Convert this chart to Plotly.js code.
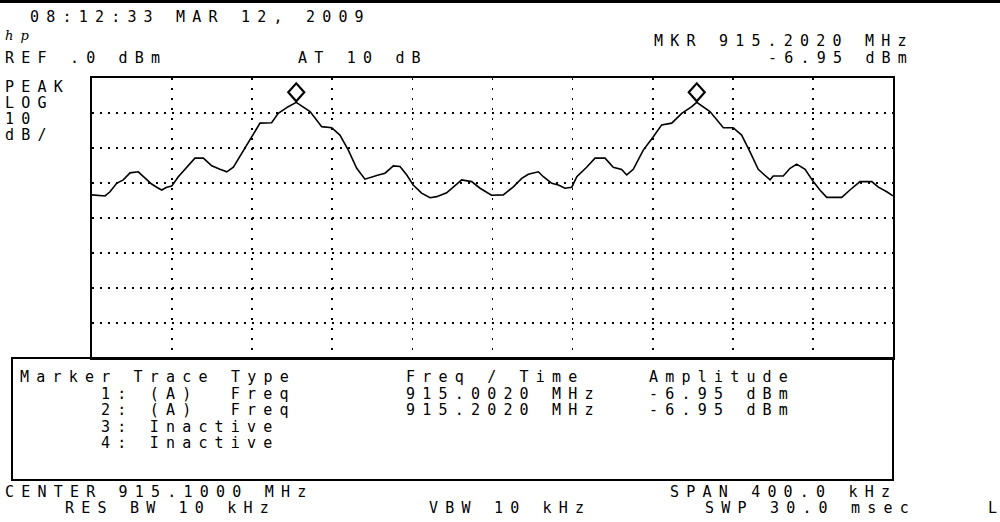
<!DOCTYPE html>
<html><head><meta charset="utf-8">
<script src="https://cdn.plot.ly/plotly-3.0.1.min.js"></script>
<style>
html,body{margin:0;padding:0;background:#fff;}
svg text{letter-spacing:7.2px;}
</style></head>
<body><div id="chart" style="width:1000px;height:522px;"></div>
<script>
// ---- data ----
const traceFreqMHz = [
914.9000,914.9065,914.9090,914.9123,914.9156,914.9190,914.9231,914.9265,914.9298,914.9323,
914.9348,914.9373,914.9398,914.9431,914.9473,914.9514,914.9556,914.9598,914.9639,914.9673,
914.9706,914.9748,914.9789,914.9839,914.9897,914.9930,914.9980,915.0020,915.0089,915.0147,
915.0197,915.0238,915.0280,915.0322,915.0363,915.0397,915.0430,915.0463,915.0505,915.0538,
915.0572,915.0604,915.0646,915.0688,915.0721,915.0771,915.0813,915.0846,915.0896,915.0938,
915.0995,915.1054,915.1104,915.1146,915.1179,915.1229,915.1254,915.1296,915.1329,915.1362,
915.1396,915.1421,915.1470,915.1512,915.1562,915.1603,915.1645,915.1670,915.1703,915.1753,
915.1803,915.1845,915.1895,915.1945,915.1995,915.2020,915.2086,915.2153,915.2202,915.2244,
915.2286,915.2327,915.2386,915.2402,915.2452,915.2486,915.2519,915.2561,915.2602,915.2635,
915.2669,915.2744,915.2785,915.2835,915.2894,915.2927,915.2969,915.3000];
const traceAmpDbm = [
-33.4,-33.7,-32.5,-30.1,-29.1,-27.1,-26.8,-28.7,-30.3,-31.2,
-32.0,-31.2,-30.9,-28.2,-25.5,-22.9,-22.9,-25.1,-26.1,-26.8,
-25.5,-21.5,-17.7,-12.9,-12.8,-10.1,-8.2,-6.95,-9.6,-13.9,
-14.2,-16.3,-20.6,-25.8,-28.9,-28.4,-27.7,-27.2,-25.1,-25.3,
-27.7,-30.6,-32.9,-34.2,-33.9,-32.8,-30.6,-29.1,-29.6,-31.5,
-33.5,-33.4,-31.1,-28.7,-27.5,-26.8,-28.2,-30.1,-30.6,-31.5,
-31.2,-28.2,-25.5,-22.9,-22.9,-25.5,-26.1,-27.7,-26.1,-20.6,
-16.8,-13.4,-12.9,-10.1,-8.2,-6.95,-9.6,-14.2,-14.2,-16.3,
-21.1,-26.1,-29.1,-28.0,-28.0,-25.8,-24.6,-26.1,-29.6,-32.0,
-34.1,-34.1,-32.0,-29.6,-29.6,-31.2,-32.5,-33.7];
const markerFreqMHz = [915.0020, 915.2020];
const markerAmpDbm = [-6.95, -6.95];
const centerMHz = 915.1, spanKHz = 400, refDbm = 0, dbPerDiv = 10;

const headerTexts = ["08:12:33 MAR 12, 2009", "REF .0 dBm", "AT 10 dB", "MKR 915.2020 MHz", "-6.95 dBm"];
const scaleTexts = ["PEAK", "LOG", "10", "dB/"];
const tableHeader = ["Marker Trace Type", "Freq / Time", "Amplitude"];
const tableRows = ["1: (A)\u00a0\u00a0Freq", "2: (A)\u00a0\u00a0Freq", "3: Inactive", "4: Inactive"];
const tableFreq = ["915.0020 MHz", "915.2020 MHz"];
const tableAmp = ["-6.95 dBm", "-6.95 dBm"];
const footerTexts = ["CENTER 915.1000 MHz", "RES BW 10 kHz", "VBW 10 kHz", "SPAN 400.0 kHz", "SWP 30.0 msec", "L"];

// ---- layout helpers (pixel -> paper) ----
const L = 92, R = 893, T = 78, B = 358;
const xp = px => (px - L) / (R - L);
const yp = py => (B - py) / (B - T);
const FONT = "DejaVu Sans Mono";
const anns = [];
function txt(s, x, y, size, extra) {
  anns.push(Object.assign({text: s, x: xp(x), y: yp(y), xref: 'paper', yref: 'paper',
    xanchor: 'left', yanchor: 'middle', align: 'left', showarrow: false, borderpad: 0,
    font: {family: FONT, size: size || 15, color: '#000'}}, extra || {}));
}
txt(headerTexts[0], 29, 17);
txt(headerTexts[1], 4, 58);
txt(headerTexts[2], 297, 58);
txt(headerTexts[3], 653, 41);
txt(headerTexts[4], 767, 58);
txt("<i>hp</i>", 4, 35, 12, {font: {family: "DejaVu Serif", size: 13, color: '#000'}});
scaleTexts.forEach((s, i) => txt(s, 4, 87 + i * 16));
txt(tableHeader[0], 19, 377);
txt(tableHeader[1], 405, 377);
txt(tableHeader[2], 648, 377);
tableRows.forEach((s, i) => txt(s, 100, 394 + i * 16.3));
tableFreq.forEach((s, i) => txt(s, 405, 394 + i * 16.3));
tableAmp.forEach((s, i) => txt(s, 648, 394 + i * 16.3));
txt(footerTexts[0], 4, 492);
txt(footerTexts[1], 64, 508);
txt(footerTexts[2], 428, 508);
txt(footerTexts[3], 669, 492);
txt(footerTexts[4], 704, 508);
txt('<span style="letter-spacing:0px">' + footerTexts[5] + '</span>', 987, 508);

const shapes = [
  {type: 'rect', xref: 'paper', yref: 'paper', x0: xp(0), x1: xp(1000), y0: yp(0), y1: yp(3),
   fillcolor: '#000', line: {width: 0}},
  {type: 'rect', xref: 'paper', yref: 'paper', x0: xp(12), x1: xp(R), y0: yp(B), y1: yp(480),
   line: {color: '#000', width: 2}, fillcolor: 'rgba(0,0,0,0)'}
];
markerFreqMHz.forEach((f, i) => {
  shapes.push({type: 'path', xref: 'x', yref: 'y', xsizemode: 'pixel', ysizemode: 'pixel',
    xanchor: f, yanchor: markerAmpDbm[i], path: 'M0,1 L8,10 L0,19 L-8,10 Z',
    line: {color: '#000', width: 2.2}, fillcolor: 'rgba(0,0,0,0)'});
});

const half = spanKHz / 2000;
const data = [{
  type: 'scatter', mode: 'lines', x: traceFreqMHz, y: traceAmpDbm,
  line: {color: '#000', width: 1.6}, hoverinfo: 'skip'
}];
const layout = {
  width: 1000, height: 522, showlegend: false,
  paper_bgcolor: '#fff', plot_bgcolor: '#fff',
  margin: {l: L, r: 1000 - R, t: T, b: 522 - B, pad: 0},
  xaxis: {range: [centerMHz - half, centerMHz + half], dtick: spanKHz / 10000, tick0: centerMHz - half,
    showticklabels: false, ticks: '', showgrid: true, gridcolor: '#000', gridwidth: 1.6, griddash: '1.6px,8.4px',
    zeroline: false, showline: true, mirror: true, linecolor: '#000', linewidth: 2, fixedrange: true},
  yaxis: {range: [refDbm - 8 * dbPerDiv, refDbm], dtick: dbPerDiv, tick0: refDbm,
    showticklabels: false, ticks: '', showgrid: true, gridcolor: '#000', gridwidth: 1.6, griddash: '1.6px,6.4px',
    zeroline: false, showline: true, mirror: true, linecolor: '#000', linewidth: 2, fixedrange: true},
  annotations: anns, shapes: shapes
};
Plotly.newPlot('chart', data, layout, {staticPlot: true, displayModeBar: false});
</script>
</body></html>
